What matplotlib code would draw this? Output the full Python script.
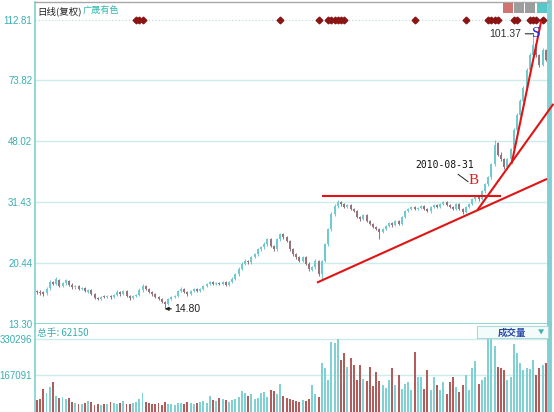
# -*- coding: UTF-8 -*-
import numpy as np
import matplotlib
matplotlib.use('Agg')
import matplotlib.pyplot as plt
from matplotlib.patches import Rectangle
from matplotlib.ticker import NullLocator

# daily bars, 广晟有色 (adjusted)
opens = [16.80, 16.70, 16.60, 16.50, 17.10, 17.90, 17.60, 18.10, 17.40, 17.70,
         18.00, 17.50, 17.20, 17.40, 17.00, 17.10, 16.70, 16.90, 16.40, 16.00,
         15.90, 16.15, 16.05, 16.20, 16.10, 16.30, 16.70, 16.45, 16.80, 16.20,
         16.00, 16.20, 16.35, 16.90, 17.40, 17.00, 16.70, 16.40, 16.10, 15.85,
         15.55, 15.30, 15.90, 16.10, 16.20, 16.80, 17.00, 16.70, 16.40, 16.80,
         17.00, 16.80, 17.00, 17.40, 17.60, 17.90, 17.60, 17.75, 17.60, 17.90,
         17.50, 17.85, 18.25, 18.90, 19.60, 20.30, 20.70, 20.50, 21.30, 21.70,
         22.50, 22.80, 23.30, 24.20, 23.00, 22.50, 24.10, 25.00, 24.50, 23.80,
         22.50, 21.70, 21.30, 20.70, 21.30, 20.30, 19.50, 19.80, 20.70, 18.90,
         20.70, 23.30, 25.90, 28.80, 30.50, 31.40, 30.90, 30.30, 30.70, 29.90,
         29.40, 28.20, 27.80, 28.60, 27.40, 26.90, 26.30, 25.90, 25.40, 25.90,
         26.50, 27.10, 26.70, 27.40, 26.90, 28.20, 29.40, 29.80, 30.30, 29.80,
         30.10, 30.50, 29.90, 29.40, 30.30, 30.70, 30.30, 30.90, 31.40, 30.70,
         30.30, 29.90, 30.90, 29.90, 29.20, 30.30, 30.90, 32.00, 32.40, 32.00,
         33.80, 35.50, 37.30, 40.90, 47.50, 43.80, 42.30, 40.00, 42.30, 45.40,
         52.20, 58.00, 63.80, 70.10, 79.50, 88.30, 95.00, 88.30, 82.30, 91.40]
highs = [16.95, 16.85, 16.75, 17.20, 18.10, 18.05, 18.55, 18.20, 17.90, 18.30,
         18.15, 17.70, 17.55, 17.55, 17.30, 17.25, 17.05, 17.00, 16.55, 16.10,
         16.25, 16.30, 16.35, 16.30, 16.45, 16.85, 16.80, 16.95, 16.95, 16.30,
         16.35, 16.45, 17.10, 17.60, 17.55, 17.15, 16.80, 16.55, 16.20, 15.95,
         15.65, 16.00, 16.25, 16.35, 16.95, 17.20, 17.10, 16.80, 16.95, 17.15,
         17.15, 17.15, 17.55, 17.80, 18.05, 18.05, 17.90, 17.90, 18.05, 18.00,
         18.00, 18.45, 19.10, 19.80, 20.50, 20.95, 20.90, 21.50, 21.95, 22.75,
         23.10, 23.60, 24.40, 24.40, 23.20, 24.35, 25.30, 25.25, 24.70, 24.00,
         22.70, 21.90, 21.50, 21.50, 21.45, 20.50, 20.05, 20.95, 20.90, 20.90,
         23.50, 26.20, 29.20, 30.90, 31.80, 31.60, 31.20, 30.95, 30.90, 30.10,
         29.60, 28.40, 28.90, 28.80, 27.60, 27.10, 26.50, 26.10, 26.20, 26.70,
         27.30, 27.30, 27.70, 27.60, 28.40, 29.70, 30.10, 30.55, 30.50, 30.30,
         30.75, 30.70, 30.10, 30.55, 30.95, 30.90, 31.20, 31.65, 31.60, 30.90,
         30.50, 31.20, 31.10, 30.10, 30.55, 31.20, 32.25, 32.70, 32.70, 34.10,
         35.90, 37.70, 41.40, 48.50, 48.00, 44.50, 42.70, 42.80, 45.90, 52.90,
         58.80, 64.60, 71.00, 80.50, 89.50, 101.37, 95.50, 89.00, 92.50, 92.00]
lows = [16.45, 16.35, 16.25, 16.35, 16.95, 17.45, 17.45, 17.20, 17.20, 17.55,
        17.35, 17.05, 17.05, 16.85, 16.85, 16.60, 16.55, 16.30, 15.85, 15.70,
        15.75, 15.95, 15.95, 15.90, 15.95, 16.15, 16.25, 16.30, 16.05, 15.80,
        15.85, 16.05, 16.20, 16.70, 16.85, 16.50, 16.25, 15.95, 15.70, 15.40,
        14.80, 15.15, 15.75, 15.95, 16.05, 16.65, 16.50, 16.25, 16.30, 16.60,
        16.60, 16.65, 16.85, 17.25, 17.45, 17.45, 17.45, 17.45, 17.45, 17.35,
        17.35, 17.70, 18.10, 18.70, 19.40, 20.10, 20.30, 20.30, 21.10, 21.50,
        22.30, 22.60, 23.10, 22.80, 22.20, 22.30, 23.90, 24.20, 23.60, 22.30,
        21.50, 21.00, 20.50, 20.50, 20.10, 19.35, 19.30, 19.60, 18.60, 18.20,
        20.50, 23.00, 25.60, 28.50, 30.10, 30.60, 30.00, 30.00, 29.60, 29.20,
        28.00, 27.50, 27.60, 27.20, 26.60, 26.10, 25.70, 24.20, 25.20, 25.70,
        26.30, 26.40, 26.50, 26.60, 26.70, 28.00, 29.20, 29.60, 29.60, 29.60,
        29.90, 29.60, 29.20, 29.00, 30.10, 30.00, 30.10, 30.70, 30.50, 30.00,
        29.60, 29.70, 29.60, 28.90, 29.00, 30.10, 30.70, 31.70, 31.70, 31.80,
        33.50, 35.20, 37.00, 40.50, 43.40, 42.00, 39.50, 39.70, 42.00, 45.00,
        51.80, 57.50, 63.20, 69.50, 78.80, 87.50, 87.00, 81.00, 81.50, 84.50]
closes = [16.65, 16.55, 16.43, 17.01, 17.85, 17.61, 18.24, 17.37, 17.73, 18.11,
          17.49, 17.25, 17.37, 17.01, 17.13, 16.77, 16.89, 16.43, 15.97, 15.86,
          16.08, 16.08, 16.19, 16.08, 16.31, 16.65, 16.43, 16.77, 16.19, 15.97,
          16.19, 16.31, 16.89, 17.37, 17.01, 16.65, 16.43, 16.08, 15.86, 15.53,
          15.31, 15.86, 16.08, 16.19, 16.77, 17.01, 16.65, 16.43, 16.77, 17.01,
          16.77, 17.01, 17.37, 17.61, 17.85, 17.61, 17.73, 17.61, 17.85, 17.49,
          17.85, 18.24, 18.89, 19.56, 20.26, 20.68, 20.54, 21.27, 21.72, 22.49,
          22.81, 23.30, 24.13, 22.97, 22.49, 24.13, 24.98, 24.48, 23.80, 22.49,
          21.72, 21.27, 20.68, 21.27, 20.26, 19.56, 19.84, 20.68, 18.89, 20.68,
          23.30, 25.92, 28.84, 30.48, 31.38, 30.93, 30.29, 30.70, 29.85, 29.43,
          28.21, 27.82, 28.60, 27.43, 26.86, 26.30, 25.92, 25.38, 25.92, 26.49,
          27.05, 26.67, 27.43, 26.86, 28.21, 29.43, 29.85, 30.29, 29.85, 30.07,
          30.48, 29.85, 29.43, 30.29, 30.70, 30.29, 30.93, 31.38, 30.70, 30.29,
          29.85, 30.93, 29.85, 29.22, 30.29, 30.93, 31.97, 32.42, 31.97, 33.80,
          35.50, 37.30, 40.90, 47.00, 43.80, 42.30, 40.00, 42.30, 45.40, 52.20,
          58.00, 63.80, 70.10, 79.50, 88.30, 94.70, 88.30, 82.30, 91.40, 85.30]
# volume in thousands of lots
volumes = [55, 60, 105, 85, 112, 135, 75, 65, 70, 60,
           65, 45, 40, 38, 35, 42, 50, 45, 30, 35,
           32, 38, 35, 45, 40, 35, 42, 50, 38, 35,
           40, 45, 60, 88, 45, 40, 38, 35, 42, 30,
           45, 38, 35, 30, 42, 40, 38, 45, 40, 35,
           40, 45, 50, 42, 75, 55, 50, 65, 60, 55,
           45, 55, 60, 70, 95, 85, 75, 80, 60, 65,
           85, 90, 70, 100, 95, 80, 129, 75, 65, 60,
           55, 50, 45, 55, 50, 60, 125, 82, 70, 222,
           200, 144, 316, 315, 333, 237, 268, 205, 247, 214,
           144, 214, 150, 140, 205, 120, 180, 140, 125, 110,
           144, 199, 121, 167, 105, 129, 136, 98, 273, 160,
           160, 105, 191, 98, 160, 121, 98, 136, 82, 136,
           160, 113, 90, 121, 167, 98, 199, 230, 129, 144,
           160, 333, 330, 301, 206, 199, 191, 144, 160, 308,
           268, 222, 191, 199, 194, 237, 167, 199, 214, 222]

price_ticks = [13.30, 20.44, 31.43, 48.02, 73.82, 112.81]
vol_ticks = [167091, 330296]
signal_bars = [31, 32, 33, 76, 88, 91, 92, 93, 94, 95, 96, 118, 134,
               141, 142, 143, 144, 149, 150, 154, 155, 156, 158]

# hand drawn trend lines (bar index, price)
trend_lines = [([89.4, 144.7], [32.65, 32.65]),
               ([87.8, 159.1], [17.85, 36.8]),
               ([137.8, 161.2], [29.8, 62.2]),
               ([148.4, 157.5], [41.4, 111.2])]

UP = '#6fcbcf'
DOWN = '#96747c'
VUP = '#7fd1d4'
VDOWN = '#b35c5c'
AXC = '#7fd0d2'
TXT = '#3aaeb0'
GRID = '#cdecec'

cjk = ['Noto Sans CJK SC', 'DejaVu Sans']

o = np.array(opens)
h = np.array(highs)
l = np.array(lows)
c = np.array(closes)
v = np.array(volumes) * 1000.0
x = np.arange(len(c))
up = c >= o

fig = plt.figure(figsize=(5.54, 4.12), dpi=100)
ax = fig.add_axes([35 / 554, 88 / 412, 514 / 554, 322.5 / 412])
axv = fig.add_axes([35 / 554, 0.0, 514 / 554, 88 / 412])

# price panel
ax.set_yscale('log')
ax.set_ylim(13.30, 128.5)
ax.set_xlim(-0.6, 160.0)
for t in price_ticks[:-1]:
    ax.axhline(t, color=GRID, lw=1, zorder=0)
ax.axhline(price_ticks[-1], color='#b8d8d8', lw=0.8, ls=(0, (1, 2)), zorder=0)

cols = np.where(up, UP, DOWN)
ax.vlines(x, l, h, colors=cols, lw=0.75, zorder=2)
body = np.maximum(np.abs(c - o), c * 0.004)
ax.bar(x, body, bottom=np.minimum(o, c), width=0.6, color=cols, zorder=2)

ax.plot(signal_bars, [price_ticks[-1]] * len(signal_bars), 'D', color='#8b1414',
        ms=3.4, ls='none', zorder=3, clip_on=False)

for xs, ys in trend_lines:
    ax.plot(xs, ys, color='#e01414', lw=1.5, zorder=4, clip_on=False)

ax.set_yticks(price_ticks)
ax.set_yticklabels(['%.2f' % t for t in price_ticks])
ax.yaxis.set_minor_locator(NullLocator())
ax.set_xticks([])
ax.tick_params(axis='y', length=0, pad=2, labelsize=7, labelcolor=TXT)
for lab in ax.get_yticklabels():
    lab.set_family('Liberation Sans')

for s in ['left', 'bottom']:
    ax.spines[s].set_color(AXC)
    ax.spines[s].set_linewidth(1.2)
ax.spines['right'].set_color(AXC)
ax.spines['right'].set_linewidth(3.5)
ax.spines['top'].set_color('#a8a8a8')
ax.spines['top'].set_linewidth(1)

ax.text(0.004, 0.985, '日线(复权)', transform=ax.transAxes, fontsize=6.8,
        family=cjk, color='#202020', va='top', ha='left')
ax.text(0.093, 0.985, '广晟有色', transform=ax.transAxes, fontsize=6.6,
        family=cjk, color='#30b8b0', va='top', ha='left')

ax.annotate('14.80', xy=(40, 14.80), xytext=(7, 0), textcoords='offset points',
            fontsize=7.5, family='Liberation Sans', color='#202020',
            ha='left', va='center',
            arrowprops=dict(arrowstyle='-|>', color='#202020', lw=0.9,
                            shrinkA=0.5, shrinkB=0, mutation_scale=5))
ax.annotate('101.37', xy=(155.2, 102.4), xytext=(-9, 0), textcoords='offset points',
            fontsize=7.5, family='Liberation Sans', color='#303030',
            ha='right', va='center',
            arrowprops=dict(arrowstyle='-', color='#303030', lw=0.8,
                            shrinkA=1, shrinkB=0))
ax.text(156.0, 102.4, 'S', color='#2a2ad0', fontsize=11, family='Liberation Serif',
        ha='center', va='center', zorder=5)
ax.text(136.3, 36.5, 'B', color='#d82020', fontsize=11, family='Liberation Serif',
        ha='center', va='center', zorder=5)
ax.text(127.5, 40.7, '2010-08-31', fontsize=7, family='DejaVu Sans Mono',
        color='#101010', ha='center', va='center', zorder=5)
ax.plot([131.6, 134.7], [38.1, 36.2], color='#202020', lw=0.7, zorder=5)

# volume panel
axv.set_xlim(-0.6, 160.0)
axv.set_ylim(0, 400000)
for t in vol_ticks:
    axv.axhline(t, color=GRID, lw=1, zorder=0)
axv.bar(x, v, width=0.6, color=np.where(up, VUP, VDOWN), zorder=2)
axv.set_yticks(vol_ticks)
axv.set_yticklabels([str(t) for t in vol_ticks])
axv.set_xticks([])
axv.tick_params(axis='y', length=0, pad=2, labelsize=7, labelcolor=TXT)
for lab in axv.get_yticklabels():
    lab.set_family('Liberation Sans')
axv.spines['left'].set_color(AXC)
axv.spines['left'].set_linewidth(1.2)
axv.spines['right'].set_color(AXC)
axv.spines['right'].set_linewidth(3.5)
axv.spines['top'].set_visible(False)
axv.spines['bottom'].set_visible(False)

axv.text(0.004, 0.95, '总手: 62150', transform=axv.transAxes, fontsize=7,
         family=cjk, color=TXT, va='top', ha='left')
axv.add_patch(Rectangle((0.86, 0.84), 0.138, 0.135, transform=axv.transAxes,
                        facecolor='#f4fbfb', edgecolor='#b0d8d8', lw=0.8, zorder=3))
axv.text(0.90, 0.905, '成交量', transform=axv.transAxes, fontsize=6.8,
         family=cjk, color='#2848a8', weight='bold', va='center', ha='left', zorder=4)
axv.text(0.985, 0.905, '▼', transform=axv.transAxes, fontsize=4.5,
         family=cjk, color='#40b0b0', va='center', ha='center', zorder=4)

# toolbar icons top right
for x0, fc in [(503, '#c85a5a'), (514, '#8c8c8c'), (525, '#8c8c8c'), (537, '#3cbcc0')]:
    fig.patches.append(Rectangle((x0 / 554, 1 - 13 / 412), 10 / 554, 10 / 412,
                                 transform=fig.transFigure, facecolor=fc,
                                 edgecolor='none', alpha=0.85))

fig.savefig('out.png', dpi=100)
